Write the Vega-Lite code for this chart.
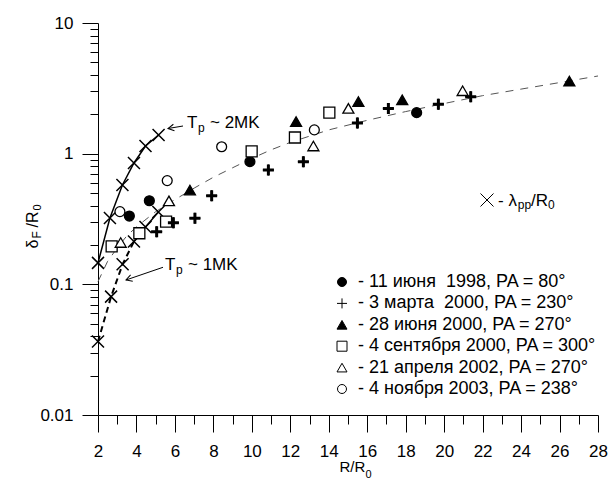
{
  "$schema": "https://vega.github.io/schema/vega-lite/v6.json",
  "width": 500,
  "height": 392,
  "autosize": {"type": "none"},
  "padding": {"left": 98, "top": 23, "right": 13, "bottom": 64},
  "background": "white",
  "config": {
    "view": {"stroke": null},
    "font": "Liberation Sans",
    "axis": {
      "grid": false,
      "domainColor": "black",
      "tickColor": "black",
      "labelColor": "black",
      "titleColor": "black",
      "labelFont": "Liberation Sans",
      "titleFont": "Liberation Sans",
      "titleFontWeight": "normal",
      "domainWidth": 1,
      "tickWidth": 1,
      "labelFlush": false,
      "labelOverlap": false,
      "labelBound": false
    },
    "legend": {
      "orient": "none",
      "legendX": 235,
      "legendY": 250,
      "padding": 0,
      "labelFont": "Liberation Sans",
      "labelFontSize": 18,
      "labelColor": "black",
      "labelLimit": 400,
      "labelOffset": 7,
      "symbolSize": 100,
      "symbolStrokeWidth": 1,
      "symbolStrokeColor": "black",
      "rowPadding": 3.4
    }
  },
  "datasets": {
    "fit": [
      {"x": 2, "y": 0.105}, {"x": 2.5, "y": 0.15}, {"x": 3, "y": 0.19}, {"x": 3.5, "y": 0.235},
      {"x": 4, "y": 0.275}, {"x": 5, "y": 0.36}, {"x": 6, "y": 0.445}, {"x": 7, "y": 0.545},
      {"x": 8, "y": 0.66}, {"x": 9, "y": 0.78}, {"x": 10, "y": 0.92}, {"x": 11, "y": 1.07},
      {"x": 12, "y": 1.22}, {"x": 14, "y": 1.52}, {"x": 16, "y": 1.8}, {"x": 18, "y": 2.1},
      {"x": 20, "y": 2.42}, {"x": 22, "y": 2.78}, {"x": 24, "y": 3.12}, {"x": 26, "y": 3.5},
      {"x": 28, "y": 3.93}
    ],
    "tp": [
      {"curve": "2MK", "x": 2.0, "y": 0.146},
      {"curve": "2MK", "x": 2.62, "y": 0.322},
      {"curve": "2MK", "x": 3.27, "y": 0.576},
      {"curve": "2MK", "x": 3.87, "y": 0.849},
      {"curve": "2MK", "x": 4.47, "y": 1.145},
      {"curve": "2MK", "x": 5.15, "y": 1.39},
      {"curve": "1MK", "x": 2.0, "y": 0.0365},
      {"curve": "1MK", "x": 2.68, "y": 0.0805},
      {"curve": "1MK", "x": 3.28, "y": 0.1425},
      {"curve": "1MK", "x": 3.87, "y": 0.213},
      {"curve": "1MK", "x": 4.47, "y": 0.275},
      {"curve": "1MK", "x": 5.14, "y": 0.358}
    ],
    "obs": [
      {"series": "11 июня\u00a0 1998, PA = 80°", "x": 3.63, "y": 0.333},
      {"series": "11 июня\u00a0 1998, PA = 80°", "x": 4.67, "y": 0.436},
      {"series": "11 июня\u00a0 1998, PA = 80°", "x": 9.9, "y": 0.869},
      {"series": "11 июня\u00a0 1998, PA = 80°", "x": 18.57, "y": 2.06},
      {"series": "3 марта\u00a0 2000, PA = 230°", "x": 5.05, "y": 0.253},
      {"series": "3 марта\u00a0 2000, PA = 230°", "x": 5.92, "y": 0.296},
      {"series": "3 марта\u00a0 2000, PA = 230°", "x": 7.04, "y": 0.321},
      {"series": "3 марта\u00a0 2000, PA = 230°", "x": 7.91, "y": 0.477},
      {"series": "3 марта\u00a0 2000, PA = 230°", "x": 10.86, "y": 0.75},
      {"series": "3 марта\u00a0 2000, PA = 230°", "x": 12.68, "y": 0.869},
      {"series": "3 марта\u00a0 2000, PA = 230°", "x": 15.49, "y": 1.72},
      {"series": "3 марта\u00a0 2000, PA = 230°", "x": 17.1, "y": 2.22},
      {"series": "3 марта\u00a0 2000, PA = 230°", "x": 19.7, "y": 2.39},
      {"series": "3 марта\u00a0 2000, PA = 230°", "x": 21.38, "y": 2.73},
      {"series": "28 июня 2000, PA = 270°", "x": 6.78, "y": 0.527},
      {"series": "28 июня 2000, PA = 270°", "x": 12.3, "y": 1.76},
      {"series": "28 июня 2000, PA = 270°", "x": 15.54, "y": 2.5},
      {"series": "28 июня 2000, PA = 270°", "x": 17.82, "y": 2.58},
      {"series": "28 июня 2000, PA = 270°", "x": 26.51, "y": 3.6},
      {"series": "4 сентября 2000, PA = 300°", "x": 2.71, "y": 0.195},
      {"series": "4 сентября 2000, PA = 300°", "x": 4.15, "y": 0.246},
      {"series": "4 сентября 2000, PA = 300°", "x": 5.54, "y": 0.302},
      {"series": "4 сентября 2000, PA = 300°", "x": 9.99, "y": 1.04},
      {"series": "4 сентября 2000, PA = 300°", "x": 12.24, "y": 1.33},
      {"series": "4 сентября 2000, PA = 300°", "x": 14.03, "y": 2.06},
      {"series": "21 апреля 2002, PA = 270°", "x": 3.18, "y": 0.209},
      {"series": "21 апреля 2002, PA = 270°", "x": 5.69, "y": 0.435},
      {"series": "21 апреля 2002, PA = 270°", "x": 13.2, "y": 1.145},
      {"series": "21 апреля 2002, PA = 270°", "x": 15.02, "y": 2.22},
      {"series": "21 апреля 2002, PA = 270°", "x": 20.96, "y": 3.03},
      {"series": "4 ноября 2003, PA = 238°", "x": 3.14, "y": 0.36},
      {"series": "4 ноября 2003, PA = 238°", "x": 5.6, "y": 0.622},
      {"series": "4 ноября 2003, PA = 238°", "x": 8.43, "y": 1.13},
      {"series": "4 ноября 2003, PA = 238°", "x": 13.25, "y": 1.52}
    ],
    "notes": [
      {"x": 6.628, "y": 1.5722, "text": "T"},
      {"x": 7.824, "y": 1.5722, "text": "~ 2MK"},
      {"x": 5.484, "y": 0.12761, "text": "T"},
      {"x": 6.68, "y": 0.12761, "text": "~ 1MK"},
      {"x": 22.8, "y": 0.39764, "text": "- λ"},
      {"x": 24.52, "y": 0.39764, "text": "/R"}
    ],
    "subs": [
      {"x": 7.2, "y": 1.4648, "text": "p"},
      {"x": 6.056, "y": 0.11893, "text": "p"},
      {"x": 23.83, "y": 0.38, "text": "pp"},
      {"x": 25.4, "y": 0.38, "text": "0"}
    ],
    "lamkey": [{"x": 22.228, "y": 0.44189}],
    "arrows": [
      {"name": "2MK", "hx": 5.64, "hy": 1.558, "tx": 6.42, "ty": 1.6283},
      {"name": "1MK", "hx": 3.456, "hy": 0.10794, "tx": 5.38, "ty": 0.13502}
    ]
  },
  "resolve": {"axis": {"x": "independent", "y": "independent"}},
  "layer": [
    {
      "data": {"name": "fit"},
      "mark": {"type": "line", "color": "#555555", "strokeWidth": 1, "strokeDash": [8, 7]},
      "encoding": {
        "x": {
          "field": "x", "type": "quantitative",
          "scale": {"type": "linear", "domain": [2, 28], "nice": false, "zero": false},
          "axis": {
            "orient": "bottom",
            "values": [2,3,4,5,6,7,8,9,10,11,12,13,14,15,16,17,18,19,20,21,22,23,24,25,26,27,28],
            "labelExpr": "datum.value % 2 == 0 ? datum.label : ''",
            "tickSize": {"condition": {"test": "datum.value % 2 == 0", "value": 17}, "value": 9},
            "labelFontSize": 17,
            "labelPadding": 11,
            "title": "R/R",
            "titleFontSize": 15,
            "titleAlign": "left",
            "titleBaseline": "alphabetic",
            "titleAnchor": "start",
            "titleX": 241,
            "titleY": 56
          }
        },
        "y": {
          "field": "y", "type": "quantitative",
          "scale": {"type": "log", "domain": [0.01, 10]},
          "axis": {
            "orient": "left",
            "values": [0.01,0.02,0.03,0.04,0.05,0.06,0.07,0.08,0.09,0.1,0.2,0.3,0.4,0.5,0.6,0.7,0.8,0.9,1,2,3,4,5,6,7,8,9,10],
            "labelExpr": "datum.value == 10 ? '10' : datum.value == 1 ? '1' : datum.value == 0.1 ? '0.1' : datum.value == 0.01 ? '0.01' : ''",
            "tickSize": {"condition": {"test": "datum.value == 10 || datum.value == 1 || datum.value == 0.1 || datum.value == 0.01", "value": 16}, "value": 8},
            "labelFontSize": 17,
            "labelPadding": 9,
            "title": "δ",
            "titleFontSize": 16,
            "titleAngle": 270,
            "titleAlign": "left",
            "titleBaseline": "alphabetic",
            "titleX": -61,
            "titleY": 225
          }
        }
      }
    },
    {
      "data": {"name": "tp"},
      "transform": [{"filter": "datum.curve == '2MK'"}],
      "mark": {"type": "line", "color": "black", "strokeWidth": 1.5},
      "encoding": {
        "x": {
          "field": "x", "type": "quantitative",
          "scale": {"type": "linear", "domain": [2, 28], "nice": false, "zero": false},
          "axis": {
            "orient": "bottom", "domain": false, "ticks": false, "labels": false,
            "title": "0", "titleFontSize": 11, "titleAlign": "left", "titleBaseline": "alphabetic",
            "titleAnchor": "start", "titleX": 267, "titleY": 62
          }
        },
        "y": {
          "field": "y", "type": "quantitative",
          "scale": {"type": "log", "domain": [0.01, 10]},
          "axis": {
            "orient": "left", "domain": false, "ticks": false, "labels": false,
            "title": "F", "titleFontSize": 12, "titleAngle": 270, "titleAlign": "left",
            "titleBaseline": "alphabetic", "titleX": -58, "titleY": 215
          }
        }
      }
    },
    {
      "data": {"name": "tp"},
      "transform": [{"filter": "datum.curve == '1MK' && datum.x <= 3.87"}],
      "mark": {"type": "line", "color": "black", "strokeWidth": 2, "strokeDash": [6, 4]},
      "encoding": {
        "x": {"field": "x", "type": "quantitative", "scale": {"type": "linear", "domain": [2, 28], "nice": false, "zero": false}, "axis": null},
        "y": {
          "field": "y", "type": "quantitative",
          "scale": {"type": "log", "domain": [0.01, 10]},
          "axis": {
            "orient": "left", "domain": false, "ticks": false, "labels": false,
            "title": "/R", "titleFontSize": 16, "titleAngle": 270, "titleAlign": "left",
            "titleBaseline": "alphabetic", "titleX": -61, "titleY": 204
          }
        }
      }
    },
    {
      "data": {"name": "tp"},
      "transform": [{"filter": "datum.curve == '1MK' && datum.x >= 3.87"}],
      "mark": {"type": "line", "color": "black", "strokeWidth": 1.5},
      "encoding": {
        "x": {"field": "x", "type": "quantitative", "scale": {"type": "linear", "domain": [2, 28], "nice": false, "zero": false}, "axis": null},
        "y": {
          "field": "y", "type": "quantitative",
          "scale": {"type": "log", "domain": [0.01, 10]},
          "axis": {
            "orient": "left", "domain": false, "ticks": false, "labels": false,
            "title": "0", "titleFontSize": 11, "titleAngle": 270, "titleAlign": "left",
            "titleBaseline": "alphabetic", "titleX": -58, "titleY": 187
          }
        }
      }
    },
    {
      "data": {"name": "tp"},
      "mark": {"type": "point", "shape": "M-1,-1L1,1M1,-1L-1,1", "size": 144, "stroke": "black", "strokeWidth": 1.5, "filled": false, "opacity": 1},
      "encoding": {
        "x": {"field": "x", "type": "quantitative", "scale": {"type": "linear", "domain": [2, 28], "nice": false, "zero": false}, "axis": null},
        "y": {"field": "y", "type": "quantitative", "scale": {"type": "log", "domain": [0.01, 10]}, "axis": null}
      }
    },
    {
      "data": {"name": "obs"},
      "mark": {"type": "point", "size": 121, "opacity": 1, "strokeWidth": 1.3},
      "encoding": {
        "x": {"field": "x", "type": "quantitative", "scale": {"type": "linear", "domain": [2, 28], "nice": false, "zero": false}, "axis": null},
        "y": {"field": "y", "type": "quantitative", "scale": {"type": "log", "domain": [0.01, 10]}, "axis": null},
        "shape": {
          "field": "series", "type": "nominal",
          "scale": {
            "domain": ["11 июня\u00a0 1998, PA = 80°", "3 марта\u00a0 2000, PA = 230°", "28 июня 2000, PA = 270°", "4 сентября 2000, PA = 300°", "21 апреля 2002, PA = 270°", "4 ноября 2003, PA = 238°"],
            "range": ["M-0.9,0A0.9,0.9 0 1,0 0.9,0A0.9,0.9 0 1,0 -0.9,0Z", "M-1,0H1M0,-1V1", "triangle-up", "square", "triangle-up", "M-0.9,0A0.9,0.9 0 1,0 0.9,0A0.9,0.9 0 1,0 -0.9,0Z"]
          },
          "legend": {"title": null, "labelExpr": "'- ' + datum.label", "symbolStrokeWidth": 1}
        },
        "fill": {
          "field": "series", "type": "nominal",
          "scale": {
            "domain": ["11 июня\u00a0 1998, PA = 80°", "3 марта\u00a0 2000, PA = 230°", "28 июня 2000, PA = 270°", "4 сентября 2000, PA = 300°", "21 апреля 2002, PA = 270°", "4 ноября 2003, PA = 238°"],
            "range": ["black", "black", "black", "white", "white", "white"]
          },
          "legend": {"title": null, "labelExpr": "'- ' + datum.label", "symbolStrokeWidth": 1}
        },
        "stroke": {
          "field": "series", "type": "nominal",
          "scale": {
            "domain": ["11 июня\u00a0 1998, PA = 80°", "3 марта\u00a0 2000, PA = 230°", "28 июня 2000, PA = 270°", "4 сентября 2000, PA = 300°", "21 апреля 2002, PA = 270°", "4 ноября 2003, PA = 238°"],
            "range": ["black", "black", "black", "black", "black", "black"]
          },
          "legend": {"title": null, "labelExpr": "'- ' + datum.label", "symbolStrokeWidth": 1}
        }
      }
    },
    {
      "data": {"name": "obs"},
      "transform": [{"filter": "indexof(datum.series, 'марта') >= 0"}],
      "mark": {"type": "point", "shape": "M-1,0H1M0,-1V1", "size": 121, "stroke": "black", "strokeWidth": 3, "filled": false, "opacity": 1},
      "encoding": {
        "x": {"field": "x", "type": "quantitative", "scale": {"type": "linear", "domain": [2, 28], "nice": false, "zero": false}, "axis": null},
        "y": {"field": "y", "type": "quantitative", "scale": {"type": "log", "domain": [0.01, 10]}, "axis": null}
      }
    },
    {
      "data": {"name": "lamkey"},
      "mark": {"type": "point", "shape": "M-1,-1L1,1M1,-1L-1,1", "size": 169, "stroke": "black", "strokeWidth": 1, "filled": false, "opacity": 1},
      "encoding": {
        "x": {"field": "x", "type": "quantitative", "scale": {"type": "linear", "domain": [2, 28], "nice": false, "zero": false}, "axis": null},
        "y": {"field": "y", "type": "quantitative", "scale": {"type": "log", "domain": [0.01, 10]}, "axis": null}
      }
    },
    {
      "data": {"name": "notes"},
      "mark": {"type": "text", "align": "left", "baseline": "alphabetic", "fontSize": 17, "font": "Liberation Sans", "color": "black"},
      "encoding": {
        "x": {"field": "x", "type": "quantitative", "scale": {"type": "linear", "domain": [2, 28], "nice": false, "zero": false}, "axis": null},
        "y": {"field": "y", "type": "quantitative", "scale": {"type": "log", "domain": [0.01, 10]}, "axis": null},
        "text": {"field": "text"}
      }
    },
    {
      "data": {"name": "subs"},
      "mark": {"type": "text", "align": "left", "baseline": "alphabetic", "fontSize": 12, "font": "Liberation Sans", "color": "black"},
      "encoding": {
        "x": {"field": "x", "type": "quantitative", "scale": {"type": "linear", "domain": [2, 28], "nice": false, "zero": false}, "axis": null},
        "y": {"field": "y", "type": "quantitative", "scale": {"type": "log", "domain": [0.01, 10]}, "axis": null},
        "text": {"field": "text"}
      }
    },
    {
      "data": {"name": "arrows"},
      "mark": {"type": "rule", "color": "black", "strokeWidth": 1},
      "encoding": {
        "x": {"field": "hx", "type": "quantitative", "scale": {"type": "linear", "domain": [2, 28], "nice": false, "zero": false}, "axis": null},
        "y": {"field": "hy", "type": "quantitative", "scale": {"type": "log", "domain": [0.01, 10]}, "axis": null},
        "x2": {"field": "tx"},
        "y2": {"field": "ty"}
      }
    },
    {
      "data": {"name": "arrows"},
      "transform": [{"filter": "datum.name == '2MK'"}],
      "mark": {"type": "point", "shape": "M1,-0.55L0,0L1,0.55", "size": 144, "angle": 350.5, "stroke": "black", "strokeWidth": 1, "filled": false, "opacity": 1},
      "encoding": {
        "x": {"field": "hx", "type": "quantitative", "scale": {"type": "linear", "domain": [2, 28], "nice": false, "zero": false}, "axis": null},
        "y": {"field": "hy", "type": "quantitative", "scale": {"type": "log", "domain": [0.01, 10]}, "axis": null}
      }
    },
    {
      "data": {"name": "arrows"},
      "transform": [{"filter": "datum.name == '1MK'"}],
      "mark": {"type": "point", "shape": "M1,-0.55L0,0L1,0.55", "size": 144, "angle": 341, "stroke": "black", "strokeWidth": 1, "filled": false, "opacity": 1},
      "encoding": {
        "x": {"field": "hx", "type": "quantitative", "scale": {"type": "linear", "domain": [2, 28], "nice": false, "zero": false}, "axis": null},
        "y": {"field": "hy", "type": "quantitative", "scale": {"type": "log", "domain": [0.01, 10]}, "axis": null}
      }
    }
  ]
}
